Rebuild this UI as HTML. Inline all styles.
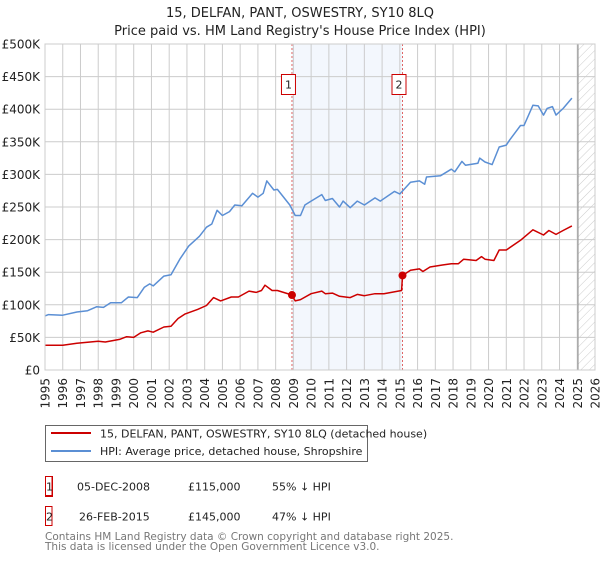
<!DOCTYPE html>
<html><head><meta charset="utf-8"><style>
body{margin:0;background:#fff;font-family:"Liberation Sans","DejaVu Sans",sans-serif;}
svg text{font-family:"DejaVu Sans","Liberation Sans",sans-serif;}
</style></head><body>
<svg id="chart" width="600" height="560" xmlns="http://www.w3.org/2000/svg">
<defs><pattern id="hatch" width="6" height="6" patternUnits="userSpaceOnUse" patternTransform="rotate(45)"><line x1="0" y1="0" x2="0" y2="6" stroke="#ccc" stroke-width="1"/></pattern></defs>
<text x="300" y="17" text-anchor="middle" font-size="13" fill="#222">15, DELFAN, PANT, OSWESTRY, SY10 8LQ</text>
<text x="300" y="35" text-anchor="middle" font-size="13" fill="#222">Price paid vs. HM Land Registry's House Price Index (HPI)</text>
<g id="plot"></g>
<g>
<rect x="45.5" y="425.5" width="322" height="36" fill="#fff" stroke="#666"/>
<line x1="51" y1="433" x2="91" y2="433" stroke="#cc0000" stroke-width="2"/>
<text x="100" y="437.5" font-size="11" fill="#222">15, DELFAN, PANT, OSWESTRY, SY10 8LQ (detached house)</text>
<line x1="51" y1="451" x2="91" y2="451" stroke="#5b8fd4" stroke-width="2"/>
<text x="100" y="455" font-size="11" fill="#222">HPI: Average price, detached house, Shropshire</text>
</g>
<g font-size="11" fill="#222">
<rect x="45.5" y="476.5" width="7" height="20" fill="none" stroke="#cc0000" transform="translate(0,0)"/>
<rect x="45.5" y="476.5" width="6.5" height="19" fill="none" stroke="#cc0000"/>
<text x="46" y="490.5" font-size="11">1</text>
<text x="77" y="490.5">05-DEC-2008</text>
<text x="188" y="490.5">£115,000</text>
<text x="272" y="490.5">55% ↓ HPI</text>
<rect x="45.5" y="506.5" width="6.5" height="19" fill="none" stroke="#cc0000"/>
<text x="46" y="520.5">2</text>
<text x="79" y="520.5">26-FEB-2015</text>
<text x="188" y="520.5">£145,000</text>
<text x="272" y="520.5">47% ↓ HPI</text>
</g>
<text x="45" y="540" font-size="10.5" fill="#777">Contains HM Land Registry data © Crown copyright and database right 2025.</text>
<text x="45" y="550" font-size="10.5" fill="#777">This data is licensed under the Open Government Licence v3.0.</text>
</svg>
<script>
const yearTicks=[1995,1996,1997,1998,1999,2000,2001,2002,2003,2004,2005,2006,2007,2008,2009,2010,2011,2012,2013,2014,2015,2016,2017,2018,2019,2020,2021,2022,2023,2024,2025,2026];
const valueTicks=[0,50,100,150,200,250,300,350,400,450,500];
const valueTickLabels=["£0","£50K","£100K","£150K","£200K","£250K","£300K","£350K","£400K","£450K","£500K"];
const hpiYears=[1995.0,1995.2,1996.0,1996.8,1997.4,1997.9,1998.3,1998.7,1999.3,1999.7,2000.2,2000.6,2000.9,2001.1,2001.7,2002.1,2002.6,2003.1,2003.7,2004.1,2004.4,2004.7,2005.0,2005.4,2005.7,2006.1,2006.7,2007.0,2007.3,2007.5,2007.9,2008.1,2008.8,2009.1,2009.4,2009.65,2010.0,2010.6,2010.8,2011.2,2011.6,2011.8,2012.2,2012.6,2013.0,2013.6,2013.9,2014.7,2015.0,2015.6,2016.1,2016.4,2016.5,2017.3,2017.9,2018.1,2018.5,2018.7,2019.4,2019.5,2019.8,2020.2,2020.6,2021.0,2021.2,2021.8,2022.0,2022.5,2022.8,2023.1,2023.3,2023.6,2023.8,2024.2,2024.7];
const hpiValues=[83,85,84,89,91,97,96,103,103,112,111,127,132,129,144,146,170,190,205,219,224,245,237,243,253,252,271,265,271,290,276,277,253,237,237,253,259,269,260,263,250,259,249,259,253,264,259,274,270,288,290,285,296,298,308,304,320,314,317,325,319,315,342,345,353,375,375,406,405,391,401,404,391,401,417];
const priceYears=[1995.0,1996.0,1996.8,1998.0,1998.4,1999.2,1999.6,2000.0,2000.4,2000.8,2001.1,2001.7,2002.1,2002.5,2002.9,2003.6,2004.1,2004.5,2004.9,2005.5,2005.9,2006.5,2006.9,2007.2,2007.4,2007.8,2008.1,2008.92,2009.1,2009.4,2010.0,2010.6,2010.8,2011.2,2011.6,2012.2,2012.6,2013.0,2013.6,2014.1,2015.1,2015.15,2015.6,2016.1,2016.3,2016.7,2017.4,2017.9,2018.3,2018.6,2019.3,2019.6,2019.8,2020.3,2020.6,2021.0,2021.8,2022.5,2023.1,2023.4,2023.8,2024.2,2024.7];
const priceValues=[38,38,41,44,43,47,51,50,57,60,58,66,67,79,86,93,99,111,106,112,112,121,119,122,130,122,122,115,106,108,117,121,117,118,113,111,116,114,117,117,122,145,153,155,151,158,161,163,163,170,168,174,170,168,184,184,199,215,207,214,208,214,221];
const saleYears=[2008.92,2015.15];
const saleValues=[115,145];
const saleLabels=["1","2"];
const forecastStart=2025.04;

const X0=45,X1=595,Y0=370,Y1=44;
const xs=y=>X0+(y-1995)/(2026-1995)*(X1-X0);
const ys=v=>Y0-v/500*(Y0-Y1);
const NS="http://www.w3.org/2000/svg";
const g=document.getElementById('plot');
function mk(t,a){const e=document.createElementNS(NS,t);for(const k in a)e.setAttribute(k,a[k]);g.appendChild(e);return e;}

let r=mk('rect',{x:xs(saleYears[0]),y:Y1,width:xs(saleYears[1])-xs(saleYears[0]),height:Y0-Y1,fill:'#eef3fc',opacity:0.7});


r=mk('rect',{x:xs(forecastStart),y:Y1,width:X1-xs(forecastStart),height:Y0-Y1,fill:'url(#hatch)'});



yearTicks.forEach(yr=>{
  const x=xs(yr);
  const l=mk('line',{x1:x,y1:Y1,x2:x,y2:Y0,stroke:'#ccc','stroke-width':1});
  
  
  const t=mk('text',{x:0,y:0,'font-size':12,fill:'#222','text-anchor':'end',transform:`translate(${x+4.5},378) rotate(-90)`});
  t.textContent=yr;
  
  
});
valueTicks.forEach((v,i)=>{
  const y=ys(v);
  const l=mk('line',{x1:X0,y1:y,x2:X1,y2:y,stroke:'#ccc','stroke-width':1});
  
  
  const t=mk('text',{x:40,y:y+4.5,'font-size':12,fill:'#222','text-anchor':'end'});
  t.textContent=valueTickLabels[i];
  
  
});
const fl=mk('line',{x1:xs(forecastStart),y1:Y1,x2:xs(forecastStart),y2:Y0,stroke:'#999','stroke-width':1.2});



saleYears.forEach((yr,i)=>{
  const x=xs(yr);
  const l=mk('line',{x1:x,y1:Y1,x2:x,y2:Y0,stroke:'#e06666','stroke-width':1,'stroke-dasharray':'2,2'});
  
  
});

function path(xsArr,vsArr,color,name){
  const d=xsArr.map((yr,i)=>(i?'L':'M')+xs(yr).toFixed(1)+','+ys(vsArr[i]).toFixed(1)).join(' ');
  const p=mk('path',{d:d,fill:'none',stroke:color,'stroke-width':1.5,'stroke-linejoin':'round'});
  
  
}
path(hpiYears,hpiValues,'#5b8fd4','hpi-line');
path(priceYears,priceValues,'#cc0000','price-line');

saleYears.forEach((yr,i)=>{
  const x=xs(yr);
  const c=mk('circle',{cx:x,cy:ys(saleValues[i]),r:4,fill:'#cc0000'});
  
  
  const b=mk('rect',{x:x-10.5,y:74.5,width:14,height:20,fill:'#fff',stroke:'#cc0000'});
  
  
  const t=mk('text',{x:x-3.5,y:88.5,'font-size':11,fill:'#222','text-anchor':'middle'});
  t.textContent=saleLabels[i];
  
  
});
const border=mk('rect',{x:X0,y:Y1,width:X1-X0,height:Y0-Y1,fill:'none',stroke:'#ccc'});


</script>
</body></html>
